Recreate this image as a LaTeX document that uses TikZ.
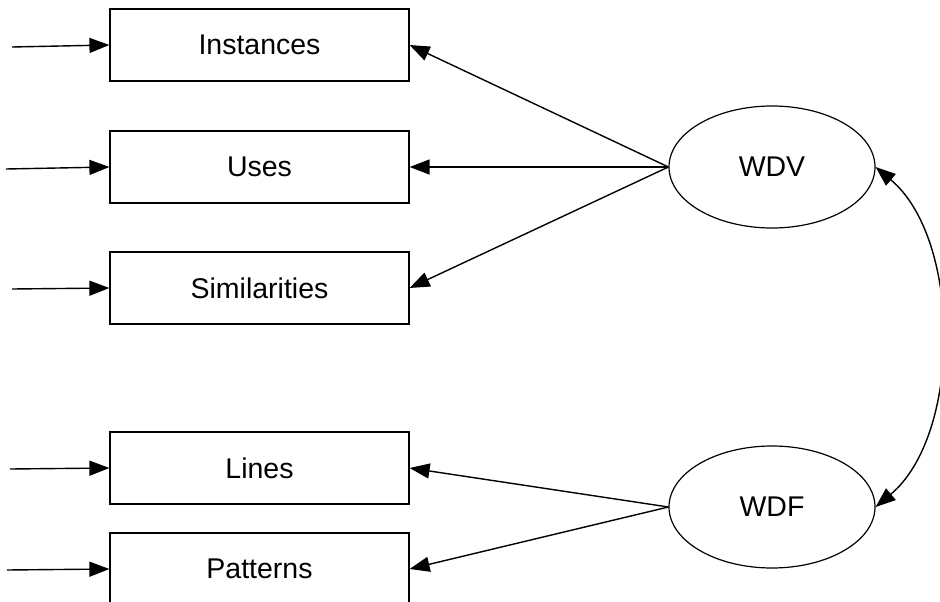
\documentclass[tikz,border=0pt]{standalone}
\usepackage{fontspec}
\setmainfont{Liberation Sans}
\usetikzlibrary{arrows.meta,shapes.geometric}
\begin{document}
\begin{tikzpicture}[x=1pt,y=-1pt,
  box/.style={draw,line width=1.2pt,minimum width=299pt,minimum height=72pt,inner sep=0pt,font=\fontsize{28.5}{31}\selectfont},
  ell/.style={draw,ellipse,line width=1.2pt,minimum width=206pt,minimum height=122pt,inner sep=0pt,font=\fontsize{28.5}{31}\selectfont},
  conn/.style={line width=1.4pt,-{Triangle[length=20pt,width=15pt]}},
  conn2/.style={line width=1.4pt,{Triangle[length=20pt,width=15pt]}-{Triangle[length=20pt,width=15pt]}}]
\clip (0,0) rectangle (940,602);
\useasboundingbox (0,0) rectangle (940,602);
\node[box] (inst) at (259.5,45) {Instances};
\node[box] (uses) at (259.5,167) {Uses};
\node[box] (sim) at (259.5,288) {Similarities};
\node[box] (lines) at (259.5,468) {Lines};
\node[box] (pat) at (259.5,569) {Patterns};
\node[ell] (wdv) at (772,167) {WDV};
\node[ell] (wdf) at (772,507) {WDF};
\coordinate (i0) at (12,47);
\coordinate (u0) at (6,169);
\coordinate (s0) at (12,289);
\coordinate (l0) at (10,469);
\coordinate (p0) at (7,570);
\draw[conn] (i0) -- (inst.west);
\draw[conn] (u0) -- (uses.west);
\draw[conn] (s0) -- (sim.west);
\draw[conn] (l0) -- (lines.west);
\draw[conn] (p0) -- (pat.west);
\draw[conn] (wdv.west) -- (inst.east);
\draw[conn] (wdv.west) -- (uses.east);
\draw[conn] (wdv.west) -- (sim.east);
\draw[conn] (wdf.west) -- (lines.east);
\draw[conn] (wdf.west) -- (pat.east);
\draw[conn2] (wdv.east) to[out=-40,in=40,looseness=0.85] (wdf.east);
\end{tikzpicture}
\end{document}
